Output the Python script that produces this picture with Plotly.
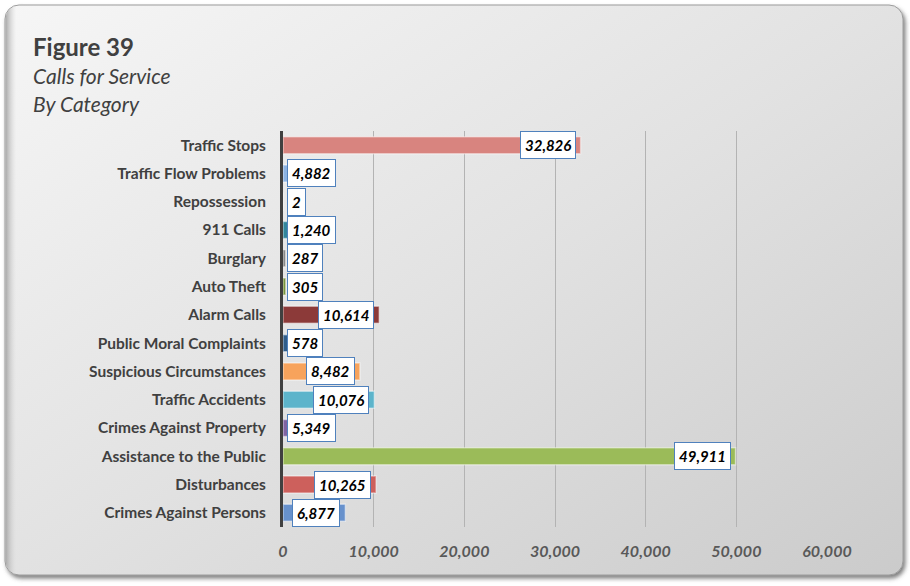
import base64
import plotly.graph_objects as go

# Calls for service, listed top to bottom as displayed
categories = [
    "Traffic Stops", "Traffic Flow Problems", "Repossession", "911 Calls",
    "Burglary", "Auto Theft", "Alarm Calls", "Public Moral Complaints",
    "Suspicious Circumstances", "Traffic Accidents", "Crimes Against Property",
    "Assistance to the Public", "Disturbances", "Crimes Against Persons",
]
calls = [32826, 4882, 2, 1240, 287, 305, 10614, 578, 8482, 10076, 5349, 49911, 10265, 6877]
bar_colors = [
    "#d8847f", "#8db3e2", "#bfbfbf", "#31859c", "#7f7f7f", "#77933c", "#8c3a39",
    "#2f5d8a", "#f7a35c", "#5cb4cb", "#8064a2", "#9bbb59", "#cd605c", "#6791cc",
]
x_ticks = [0, 10000, 20000, 30000, 40000, 50000, 60000]
x_tick_text = ["0", "10,000", "20,000", "30,000", "40,000", "50,000", "60,000"]

W, H = 910, 586
M_L, M_R, M_T, M_B = 283, 83, 131, 59
PLOT_W, PLOT_H = W - M_L - M_R, H - M_T - M_B
X_MAX = 60000


def px_x(px):
    return (px - M_L) / PLOT_W


def px_y(py):
    return 1 - (py - M_T) / PLOT_H


# Rounded panel with a diagonal grey gradient and a soft drop shadow
panel_svg = f"""<svg xmlns='http://www.w3.org/2000/svg' width='{W}' height='{H}' viewBox='0 0 {W} {H}'>
<defs>
<linearGradient id='g' x1='0' y1='0' x2='1' y2='1'>
<stop offset='0' stop-color='#f6f6f6'/>
<stop offset='0.5' stop-color='#e2e2e2'/>
<stop offset='1' stop-color='#cbcbcb'/>
</linearGradient>
<linearGradient id='edge' x1='0' y1='0' x2='1' y2='0'>
<stop offset='0' stop-color='#a8a8a8'/>
<stop offset='0.012' stop-color='#d8d8d8' stop-opacity='0'/>
<stop offset='1' stop-color='#d8d8d8' stop-opacity='0'/>
</linearGradient>
<filter id='s' x='-5%' y='-5%' width='110%' height='110%'>
<feDropShadow dx='2' dy='3' stdDeviation='2' flood-color='#555555' flood-opacity='0.75'/>
</filter>
</defs>
<rect x='0' y='0' width='{W}' height='{H}' fill='#ffffff'/>
<rect x='5' y='5' width='898' height='570' rx='14' ry='14' fill='url(#g)' stroke='#9c9c9c' stroke-width='1' filter='url(#s)'/>
<rect x='5.5' y='5.5' width='897' height='569' rx='14' ry='14' fill='url(#edge)'/>
</svg>"""
panel_src = "data:image/svg+xml;base64," + base64.b64encode(panel_svg.encode()).decode()

fig = go.Figure()
fig.add_trace(go.Bar(
    x=calls,
    y=categories,
    orientation="h",
    marker=dict(color=bar_colors, line=dict(color="rgba(255,255,255,0.45)", width=1.5)),
    hoverinfo="x+y",
))

# Value labels: boxed, placed inside the bar end unless the bar is too short
label_font = dict(family="Lato", size=15, color="#000000", weight="bold", style="italic")
px_per_unit = PLOT_W / X_MAX
annotations = []
for cat, val in zip(categories, calls):
    text = f"{val:,}"
    box_w = sum(3.8 if ch == "," else 8.7 for ch in text) + 12
    if val * px_per_unit - 5 - box_w < 4:
        x, anchor, shift = 0, "left", 4
    else:
        x, anchor, shift = val, "right", -5
    annotations.append(dict(
        x=x, y=cat, xref="x", yref="y", text=text, showarrow=False,
        xanchor=anchor, xshift=shift, yanchor="middle",
        font=label_font, bgcolor="#ffffff", bordercolor="#4f81bd",
        borderwidth=1, borderpad=4,
    ))

# Title block
annotations += [
    dict(x=px_x(31), y=px_y(46), xref="paper", yref="paper", xanchor="left", yanchor="middle",
         text="Figure 39", showarrow=False,
         font=dict(family="Lato", size=24, color="#404040", weight="bold")),
    dict(x=px_x(31), y=px_y(75), xref="paper", yref="paper", xanchor="left", yanchor="middle",
         text="Calls for Service", showarrow=False,
         font=dict(family="Lato", size=21, color="#404040", style="italic")),
    dict(x=px_x(31), y=px_y(103), xref="paper", yref="paper", xanchor="left", yanchor="middle",
         text="By Category", showarrow=False,
         font=dict(family="Lato", size=21, color="#404040", style="italic")),
]

fig.update_layout(
    width=W, height=H,
    margin=dict(l=M_L, r=M_R, t=M_T, b=M_B, pad=0),
    paper_bgcolor="rgba(0,0,0,0)",
    plot_bgcolor="rgba(0,0,0,0)",
    showlegend=False,
    bargap=0.4,
    annotations=annotations,
    images=[dict(
        source=panel_src, xref="paper", yref="paper",
        x=px_x(0), y=px_y(0), sizex=W / PLOT_W, sizey=H / PLOT_H,
        xanchor="left", yanchor="top", sizing="stretch", layer="below",
    )],
    xaxis=dict(
        range=[0, X_MAX], tickvals=x_ticks, ticktext=x_tick_text,
        showgrid=True, gridcolor="#b3b3b3", gridwidth=1,
        zeroline=False, showline=False, ticks="",
        ticklabelstandoff=13,
        tickfont=dict(family="Lato", size=16, color="#595959", weight="bold", style="italic"),
        fixedrange=True,
    ),
    yaxis=dict(
        autorange="reversed", type="category",
        showgrid=False, zeroline=False,
        showline=True, linecolor="#404040", linewidth=3,
        ticks="", ticklabelstandoff=11,
        tickfont=dict(family="Lato", size=15.5, color="#404040", weight="bold"),
        fixedrange=True,
    ),
)

fig.write_html("out.html")
